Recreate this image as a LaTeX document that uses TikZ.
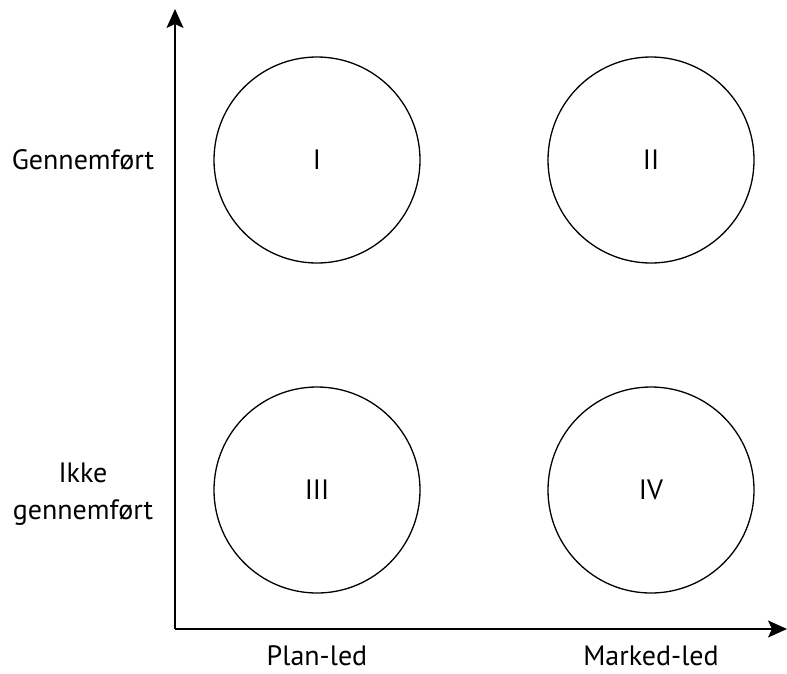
\documentclass[tikz,border=0pt]{standalone}
\usepackage{fontspec}
\setmainfont{PT Sans}
\usetikzlibrary{arrows.meta}
\begin{document}
\begin{tikzpicture}[x=1pt,y=-1pt,
  quad/.style={circle,draw,line width=1.3pt,minimum size=206pt,inner sep=0pt,font=\fontsize{28}{37}\selectfont},
  lab/.style={font=\fontsize{28}{37}\selectfont,anchor=base,inner sep=0pt},
  axis/.style={line width=1.6pt,-{Stealth[length=19pt,width=17pt,inset=4pt]}}]
\useasboundingbox (0,0) rectangle (787,673);
\coordinate (o) at (175,629);
\coordinate (ytip) at (175,9);
\coordinate (xtip) at (787,629);
\draw[axis] (o) -- (ytip);
\draw[axis] (o) -- (xtip);
\node[quad] (c1) at (317,160) {I};
\node[quad] (c2) at (651,160) {II};
\node[quad] (c3) at (317,490) {III};
\node[quad] (c4) at (651,490) {IV};
\node[lab] (l1) at (83,169) {Gennemført};
\node[lab,align=center] (l2) at (83,519) {Ikke\\gennemført};
\node[lab] (l3) at (317,665) {Plan-led};
\node[lab] (l4) at (651,665) {Marked-led};
\end{tikzpicture}
\end{document}
